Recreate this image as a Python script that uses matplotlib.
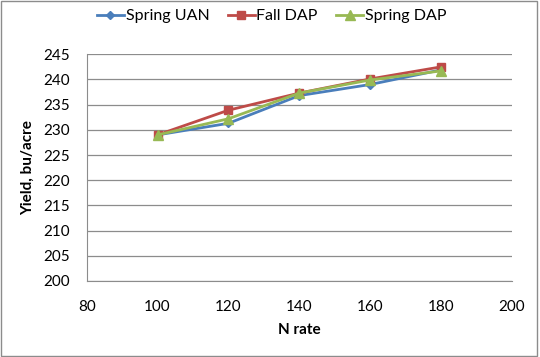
import matplotlib
matplotlib.use("Agg")
import matplotlib.pyplot as plt

n_rate = [100, 120, 140, 160, 180]
spring_uan = [229.0, 231.3, 236.8, 239.0, 241.9]
fall_dap = [229.0, 233.9, 237.3, 240.1, 242.5]
spring_dap = [229.0, 232.2, 237.3, 239.9, 241.7]

plt.rcParams["font.family"] = ["Lato", "DejaVu Sans"]

fig = plt.figure(figsize=(5.4, 3.57), dpi=100)
ax = fig.add_axes([0.1606, 0.2129, 0.787, 0.635])

ax.plot(n_rate, spring_uan, color="#4A7EBB", lw=2, marker="D", ms=4.5, label="Spring UAN")
ax.plot(n_rate, fall_dap, color="#BE4B48", lw=2, marker="s", ms=6, label="Fall DAP")
ax.plot(n_rate, spring_dap, color="#98B954", lw=2, marker="^", ms=6.5, label="Spring DAP")

ax.set_xlim(80, 200)
ax.set_ylim(200, 245)
ax.set_xticks(range(80, 201, 20))
ax.set_yticks(range(200, 246, 5))
ax.grid(axis="y", color="#8C8C8C", lw=0.9)
ax.set_axisbelow(True)
for s in ["top", "right"]:
    ax.spines[s].set_visible(False)
for s in ["left", "bottom"]:
    ax.spines[s].set_color("#8C8C8C")
ax.tick_params(length=0, labelsize=11)
ax.tick_params(axis="x", pad=13.5)
ax.tick_params(axis="y", pad=12)

ax.set_xlabel("N rate", fontsize=11, fontweight="bold", va="center")
ax.xaxis.set_label_coords(0.5, -0.216)
ax.set_ylabel("Yield, bu/acre", fontsize=11, fontweight="bold", va="center")
ax.yaxis.set_label_coords(-0.139, 0.5)

fig.legend(loc="center", bbox_to_anchor=(0.503, 0.955), ncol=3, frameon=False,
           fontsize=11.5, handlelength=1.7, columnspacing=1.15, handletextpad=0.1,
           borderpad=0, borderaxespad=0)

fig.add_artist(plt.Rectangle((0.002, 0.003), 0.992, 0.994, transform=fig.transFigure,
                             fill=False, edgecolor="#8C8C8C", lw=1))

fig.savefig("out.png", dpi=100)
